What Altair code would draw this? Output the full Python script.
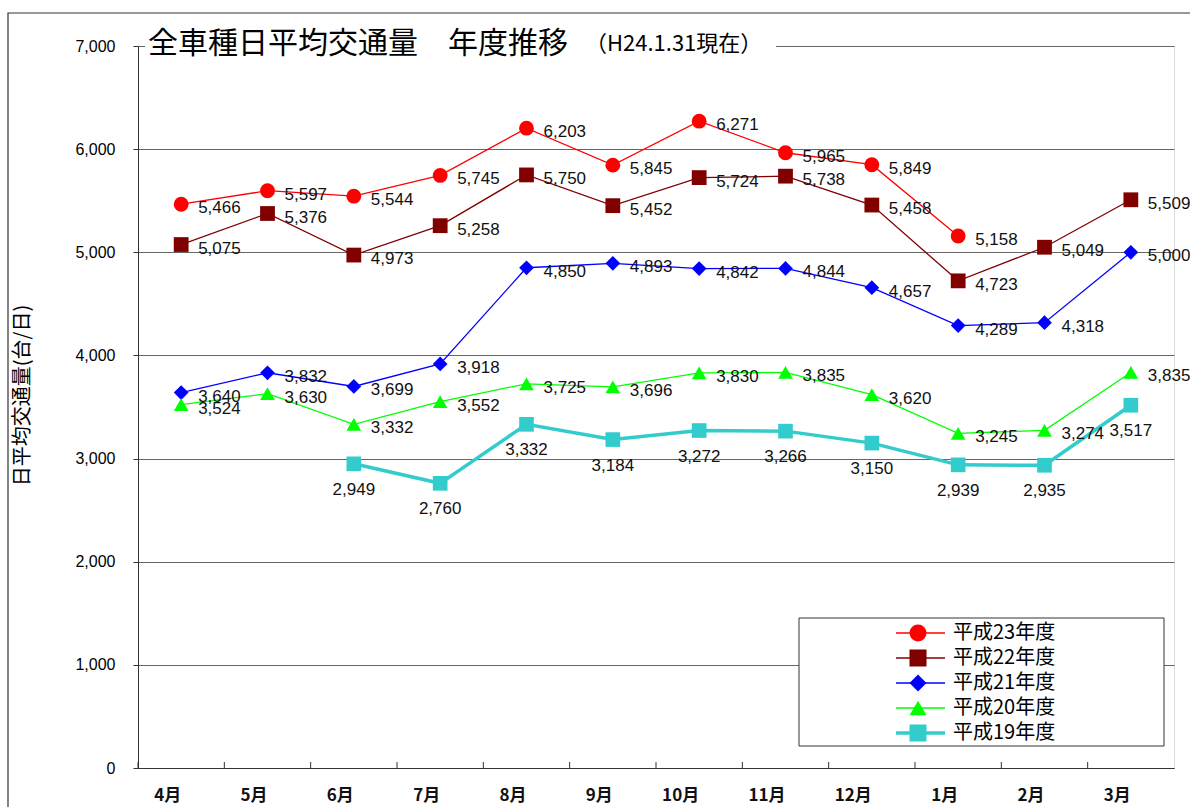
import altair as alt
import pandas as pd

months = ["4月", "5月", "6月", "7月", "8月", "9月", "10月", "11月", "12月", "1月", "2月", "3月"]
series_names = ["平成23年度", "平成22年度", "平成21年度", "平成20年度", "平成19年度"]
h23 = [5466, 5597, 5544, 5745, 6203, 5845, 6271, 5965, 5849, 5158, None, None]
h22 = [5075, 5376, 4973, 5258, 5750, 5452, 5724, 5738, 5458, 4723, 5049, 5509]
h21 = [3640, 3832, 3699, 3918, 4850, 4893, 4842, 4844, 4657, 4289, 4318, 5000]
h20 = [3524, 3630, 3332, 3552, 3725, 3696, 3830, 3835, 3620, 3245, 3274, 3835]
h19 = [None, None, 2949, 2760, 3332, 3184, 3272, 3266, 3150, 2939, 2935, 3517]
y_ticks = [0, 1000, 2000, 3000, 4000, 5000, 6000, 7000]
colors = ["#FF0000", "#800000", "#0000FF", "#00FF00", "#33CCCC"]
shapes = ["circle", "square", "diamond", "triangle-up", "square"]
sizes = [220, 215, 240, 300, 470]
legend_sizes = [290, 290, 300, 360, 480]
title_main = "全車種日平均交通量　年度推移"
title_sub = "（H24.1.31現在）"
y_title = "日平均交通量(台/日)"

JP = "Noto Sans CJK JP"
NUM = "Liberation Sans"

rows = []
for name, vals in zip(series_names, [h23, h22, h21, h20, h19]):
    for i, (m, v) in enumerate(zip(months, vals)):
        if v is not None:
            rows.append({"series": name, "month": m, "mi": i, "value": v})
df = pd.DataFrame(rows)
month_df = pd.DataFrame({"month": months})
legend_df = pd.DataFrame({"series": series_names, "order": list(range(len(series_names)))})
one = pd.DataFrame({"a": [0]})

W, H = 1036, 722

color_scale = alt.Scale(domain=series_names, range=colors)
shape_scale = alt.Scale(domain=series_names, range=shapes)
size_scale = alt.Scale(domain=series_names, range=sizes)
legend_size_scale = alt.Scale(domain=series_names, range=legend_sizes)

xenc = alt.X("month:N", sort=months, bandPosition=0.5,
             scale=alt.Scale(type="band", paddingInner=0, paddingOuter=0),
             axis=alt.Axis(labelAngle=0, ticks=False, domainColor="#333", labelFont=JP,
                           labelFontSize=17, labelFontWeight="bold", labelColor="#111",
                           labelBaseline="middle", labelPadding=27, title=None, grid=False))
yenc = alt.Y("value:Q", scale=alt.Scale(domain=[0, 7000], nice=False),
             axis=alt.Axis(values=y_ticks, format=",d", labelFont=NUM, labelFontSize=16,
                           labelColor="#000", labelPadding=18, tickSize=5, tickColor="#333",
                           domainColor="#333", gridColor="#666", title=y_title,
                           titleFont=JP, titleFontSize=20, titleFontWeight="normal",
                           titleColor="#000", titleX=-116, titleY=349, titleAngle=270,
                           titleAlign="center", titleBaseline="middle"))

base = alt.Chart(df)

frame = alt.Chart(one).mark_rect(fill=None, stroke="#333", strokeWidth=1.2).encode(
    x=alt.value(-130), x2=alt.value(1100), y=alt.value(-33), y2=alt.value(850))

ticks = alt.Chart(month_df).mark_rule(color="#333").encode(
    x=alt.X("month:N", sort=months, bandPosition=0), y=alt.value(H), y2=alt.value(H - 6))

lines_thin = base.transform_filter(alt.datum.series != "平成19年度").mark_line(strokeWidth=1.3).encode(
    x=xenc, y=yenc, color=alt.Color("series:N", scale=color_scale, legend=None),
    detail="series:N", order="mi:Q")
lines_thick = base.transform_filter(alt.datum.series == "平成19年度").mark_line(strokeWidth=3.5).encode(
    x=xenc, y=yenc, color=alt.Color("series:N", scale=color_scale, legend=None), order="mi:Q")

points = base.mark_point(filled=True, opacity=1).encode(
    x=xenc, y=yenc,
    color=alt.Color("series:N", scale=color_scale, legend=None),
    shape=alt.Shape("series:N", scale=shape_scale, legend=None),
    size=alt.Size("series:N", scale=size_scale, legend=None))

lab_common = dict(font=NUM, fontSize=17, color="#111")
labels_main = base.transform_filter(alt.datum.series != "平成19年度").mark_text(
    align="left", baseline="middle", dx=17, dy=4, **lab_common).encode(
    x=xenc, y=yenc, text=alt.Text("value:Q", format=",d"))
labels_19 = base.transform_filter(alt.datum.series == "平成19年度").mark_text(
    align="center", baseline="middle", dy=26, **lab_common).encode(
    x=xenc, y=yenc, text=alt.Text("value:Q", format=",d"))

title_box = alt.Chart(one).mark_rect(fill="white").encode(
    x=alt.value(7), x2=alt.value(638), y=alt.value(-22), y2=alt.value(22))
title1 = alt.Chart(one).mark_text(align="left", baseline="middle", font=JP, fontSize=30,
                                  color="#000").encode(
    x=alt.value(10), y=alt.value(-2), text=alt.value(title_main))
title2 = alt.Chart(one).mark_text(align="left", baseline="middle", font=JP, fontSize=22,
                                  color="#000").encode(
    x=alt.value(447), y=alt.value(-2), text=alt.value(title_sub))

legend_box = alt.Chart(one).mark_rect(fill="white", stroke="#333", strokeWidth=1).encode(
    x=alt.value(661), x2=alt.value(1026), y=alt.value(572), y2=alt.value(700))

main = alt.layer(frame, ticks, lines_thin, lines_thick, points, labels_main, labels_19,
                 title_box, title1, title2, legend_box)

ly = alt.Y("order:Q", scale=alt.Scale(domain=[0, 4], range=[587, 687]), axis=None)
lg_base = alt.Chart(legend_df)
lg_rule_thin = lg_base.transform_filter(alt.datum.series != "平成19年度").mark_rule(strokeWidth=1.3).encode(
    x=alt.value(758), x2=alt.value(807), y=ly,
    color=alt.Color("series:N", scale=color_scale, legend=None))
lg_rule_thick = lg_base.transform_filter(alt.datum.series == "平成19年度").mark_rule(strokeWidth=3.5).encode(
    x=alt.value(758), x2=alt.value(807), y=ly,
    color=alt.Color("series:N", scale=color_scale, legend=None))
lg_pts = lg_base.mark_point(filled=True, opacity=1).encode(
    x=alt.value(780), y=ly,
    color=alt.Color("series:N", scale=color_scale, legend=None),
    shape=alt.Shape("series:N", scale=shape_scale, legend=None),
    size=alt.Size("series:N", scale=legend_size_scale, legend=None))
lg_txt = lg_base.mark_text(align="left", baseline="middle", font=JP, fontSize=20,
                           color="#000").encode(
    x=alt.value(815), y=ly, text="series:N")
legend = alt.layer(lg_rule_thin, lg_rule_thick, lg_pts, lg_txt)

chart = alt.layer(main, legend).resolve_scale(y="independent", size="independent").properties(
    width=W, height=H,
    autosize=alt.AutoSizeParams(type="none"),
    padding={"left": 138, "top": 46, "right": 16, "bottom": 39},
).configure_view(stroke="#888", strokeWidth=1.5).configure(background="white")

chart.save("out.html", embed_options={"renderer": "svg", "actions": False})
